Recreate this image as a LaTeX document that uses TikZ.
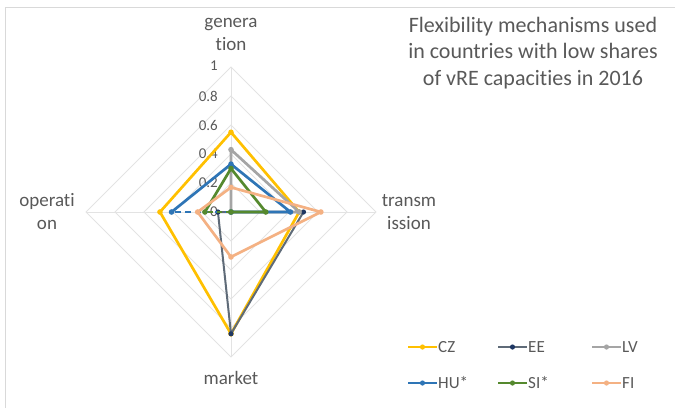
\documentclass[tikz,border=0pt]{standalone}
\usepackage{fontspec}
\setmainfont{Carlito}[Ligatures=NoCommon]
\definecolor{czc}{HTML}{FFC000}
\definecolor{eec}{HTML}{5F6B78}
\definecolor{eem}{HTML}{1F3864}
\definecolor{lvc}{HTML}{A5A5A5}
\definecolor{huc}{HTML}{2E75B6}
\definecolor{sic}{HTML}{55892E}
\definecolor{fic}{HTML}{F4B183}
\definecolor{txt}{HTML}{595959}
\definecolor{gridc}{HTML}{E3E3E3}
\definecolor{framec}{HTML}{D9D9D9}
\newcommand\mkpts[5]{%
  \coordinate (#1g) at (231,{212-145*#2});
  \coordinate (#1t) at ({231+145*#3},212);
  \coordinate (#1m) at (231,{212+145*#4});
  \coordinate (#1o) at ({231-145*#5},212);}
\tikzset{
  serline/.style={line width=2.7pt, line join=round},
  lbl/.style={text=txt, font=\fontsize{19}{23}\selectfont, align=center, inner sep=0pt},
  tick/.style={text=txt, font=\fontsize{15}{16}\selectfont, anchor=east, inner sep=0pt},
  leg/.style={text=txt, font=\fontsize{17}{18}\selectfont, anchor=west, inner sep=0pt},
  gridline/.style={draw=gridc, line width=0.9pt}
}
\begin{document}
\begin{tikzpicture}[x=1pt,y=-1pt]
\useasboundingbox (0,0) rectangle (675,408);
% frame
\coordinate (fr1) at (675,7);
\coordinate (fr2) at (5,7);
\coordinate (fr3) at (5,408);
\draw[framec, line width=0.8pt] (fr1) -- (fr2) -- (fr3);
% grid
\coordinate (C) at (231,212);
\foreach \r in {29,58,87,116,145}{
  \draw[gridline] (231,212-\r) -- (231+\r,212) -- (231,212+\r) -- (231-\r,212) -- cycle;
}
\draw[gridline] (231,67) -- (231,357);
\draw[gridline] (86,212) -- (376,212);
% tick labels
\node[tick] (t0) at (218,212) {0};
\node[tick] (t1) at (218,183) {0.2};
\node[tick] (t2) at (218,154) {0.4};
\node[tick] (t3) at (218,125) {0.6};
\node[tick] (t4) at (218,96) {0.8};
\node[tick] (t5) at (218,66) {1};
% category labels
\node[lbl] (gen) at (231,34) {genera\\tion};
\node[lbl] (op) at (47,212) {operati\\on};
\node[lbl] (tr) at (409,212) {transm\\ission};
\node[lbl] (mk) at (231,378) {market};
% data
\mkpts{CZ}{0.55}{0.47}{0.84}{0.49}
\mkpts{EE}{0}{0.50}{0.84}{0.09}
\mkpts{LV}{0.43}{0.47}{0}{0}
\mkpts{HU}{0.33}{0.41}{0}{0.41}
\mkpts{SI}{0.30}{0.24}{0}{0.18}
\mkpts{FI}{0.17}{0.62}{0.31}{0.23}
% CZ
\draw[serline, czc] (CZg) -- (CZt) -- (CZm) -- (CZo) -- cycle;
\foreach \p in {g,t,m,o}{\fill[czc] (CZ\p) circle (2.8);}
% EE
\draw[serline, eec, line width=2pt] (EEg) -- (EEt) -- (EEm) -- (EEo) -- cycle;
\foreach \p in {g,t,m,o}{\fill[eem] (EE\p) circle (2.6);}
% LV
\draw[serline, lvc] (LVg) -- (LVt) -- (LVm) -- (LVo) -- cycle;
\foreach \p in {g,t,m,o}{\fill[lvc] (LV\p) circle (2.8);}
% HU
\draw[serline, huc] (HUo) -- (HUg) -- (HUt) -- (HUm);
\draw[serline, huc, dash pattern=on 6pt off 4pt] (HUm) -- (HUo);
\foreach \p in {g,t,m,o}{\fill[huc] (HU\p) circle (2.8);}
% SI
\draw[serline, sic] (SIo) -- (SIg) -- (SIt) -- (SIm);
\draw[serline, sic, dash pattern=on 5pt off 4pt] (SIm) -- (SIo);
\foreach \p in {g,t,m,o}{\fill[sic] (SI\p) circle (2.8);}
% FI
\draw[serline, fic] (FIg) -- (FIt) -- (FIm) -- (FIo) -- cycle;
\foreach \p in {g,t,m,o}{\fill[fic] (FI\p) circle (2.8);}
% title
\node[text=txt, font=\fontsize{22}{26.5}\selectfont, align=center, inner sep=0pt] (title) at (533,53) {Flexibility mechanisms used\\in countries with low shares\\of vRE capacities in 2016};
% legend
\foreach \nm/\col/\mc/\x/\y/\lab in {lCZ/czc/czc/408/347/CZ, lEE/eec/eem/498/347/EE, lLV/lvc/lvc/592/347/LV, lHU/huc/huc/408/383/HU*, lSI/sic/sic/498/383/SI*, lFI/fic/fic/592/383/FI}{
  \coordinate (\nm a) at (\x,\y);
  \coordinate (\nm b) at (\x+29,\y);
  \coordinate (\nm c) at (\x+14.5,\y);
  \draw[\col, line width=2.7pt] (\nm a) -- (\nm b);
  \fill[\mc] (\nm c) circle (2.6);
  \node[leg] (\nm t) at (\x+30,\y) {\lab};
}
\end{tikzpicture}
\end{document}
